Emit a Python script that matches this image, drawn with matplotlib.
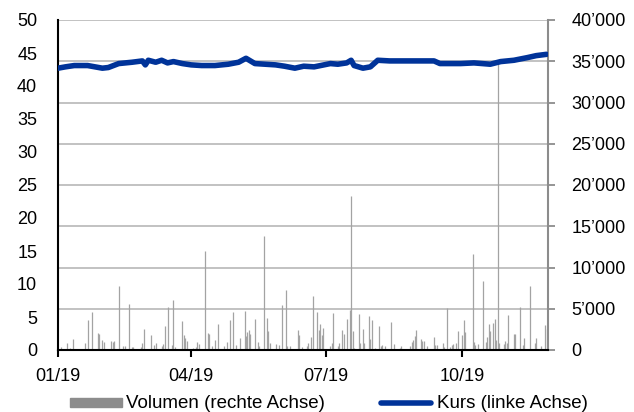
import numpy as np
import pandas as pd
import matplotlib
matplotlib.use("Agg")
import matplotlib.pyplot as plt
from matplotlib.lines import Line2D
from matplotlib.patches import Rectangle

# ---- data (days since 2019-01-01) ----
price_day = [0, 5, 11, 20, 30, 34, 41, 50, 57, 59, 61, 66, 70, 74, 78, 84, 90, 97,
             106, 115, 122, 127, 133, 140, 147, 153, 160, 166, 173, 184, 189, 195,
             198, 200, 206, 211, 216, 224, 238, 254, 258, 272, 281, 292, 299, 308,
             317, 323, 330]
price = [42.7, 42.9, 43.1, 43.1, 42.7, 42.8, 43.4, 43.6, 43.8, 43.2, 43.9, 43.6,
         43.9, 43.5, 43.7, 43.4, 43.2, 43.1, 43.1, 43.3, 43.6, 44.2, 43.4, 43.3,
         43.2, 43.0, 42.7, 43.0, 42.9, 43.4, 43.3, 43.5, 43.9, 43.1, 42.7, 42.9,
         43.9, 43.8, 43.8, 43.8, 43.4, 43.4, 43.5, 43.3, 43.7, 43.9, 44.3, 44.6, 44.8]

vol_day = [2, 6, 8, 10, 18, 20, 23, 27, 28, 30, 31, 36, 37, 38, 41, 44, 45, 48, 50,
           51, 56, 57, 58, 63, 65, 66, 70, 71, 72, 74, 77, 78, 79, 84, 85, 86, 87,
           91, 93, 94, 95, 99, 101, 102, 104, 106, 108, 112, 114, 116, 118, 120,
           123, 126, 127, 128, 129, 130, 133, 135, 136, 139, 141, 142, 143, 147,
           149, 151, 154, 155, 157, 162, 163, 165, 168, 169, 171, 172, 175, 176,
           177, 178, 179, 184, 185, 186, 189, 190, 192, 193, 195, 197, 198, 199,
           200, 203, 204, 206, 207, 210, 211, 212, 214, 217, 218, 219, 221, 225,
           227, 231, 232, 238, 239, 240, 241, 242, 245, 246, 247, 249, 254, 255,
           256, 260, 261, 263, 265, 266, 267, 269, 270, 273, 274, 275, 280, 281,
           282, 284, 287, 289, 290, 291, 292, 294, 295, 296, 297, 298, 301, 302,
           303, 304, 308, 309, 312, 314, 315, 319, 322, 323, 326, 329, 330]
volume = [400, 900, 200, 1300, 900, 3600, 4600, 2100, 1900, 1200, 1000, 1100, 1000,
          1100, 7800, 500, 500, 5600, 400, 400, 400, 900, 2600, 1800, 600, 800, 500,
          700, 2900, 5200, 600, 6100, 400, 3500, 1800, 1400, 1100, 300, 400, 1000,
          700, 12000, 2100, 1900, 500, 1200, 3100, 500, 1000, 3600, 4600, 600, 1400,
          4700, 1700, 2200, 2400, 1900, 3800, 1000, 500, 13800, 3900, 2300, 800,
          700, 600, 5500, 7300, 500, 500, 2400, 1800, 400, 500, 900, 1600, 6500,
          4600, 2400, 3100, 1800, 2700, 500, 900, 4500, 500, 900, 2400, 2000, 3800,
          4900, 18700, 2300, 300, 4400, 900, 2500, 900, 4100, 1300, 3600, 300,
          2900, 500, 600, 500, 3400, 700, 300, 500, 500, 1000, 1200, 1700, 2400,
          1300, 1100, 1100, 500, 1600, 600, 600, 900, 400, 5100, 400, 600, 700,
          800, 2300, 1800, 3600, 2200, 11600, 1000, 600, 700, 8400, 1000, 1600,
          3100, 2300, 3300, 3800, 1200, 35000, 900, 700, 1100, 900, 4200, 2000,
          1900, 5200, 600, 1400, 7700, 900, 1400, 500, 3000, 2600]

left_ticks = [0, 5, 10, 15, 20, 25, 30, 35, 40, 45, 50]
right_ticks = [0, 5000, 10000, 15000, 20000, 25000, 30000, 35000, 40000]
right_labels = ["0", "5\u2019000", "10\u2019000", "15\u2019000", "20\u2019000",
                "25\u2019000", "30\u2019000", "35\u2019000", "40\u2019000"]
x_tick_dates = ["2019-01-01", "2019-04-01", "2019-07-01", "2019-10-01"]
x_tick_labels = ["01/19", "04/19", "07/19", "10/19"]
legend_labels = ["Volumen (rechte Achse)", "Kurs (linke Achse)"]

start = pd.Timestamp("2019-01-01")
pdates = [start + pd.Timedelta(days=d) for d in price_day]
vdates = [start + pd.Timedelta(days=d) for d in vol_day]

plt.rcParams['font.family'] = ['Liberation Sans', 'DejaVu Sans']

fig = plt.figure(figsize=(6.34, 4.12), dpi=100)
ax2 = fig.add_axes([58/634, 1-350/412, (548-58)/634, 330/412])
ax = ax2.twinx()
ax2.yaxis.tick_right()
ax2.yaxis.set_label_position("right")
ax.yaxis.tick_left()
ax.yaxis.set_label_position("left")

ax.set_zorder(ax2.get_zorder() + 1)
ax.patch.set_visible(False)

# volume
ax2.vlines(vdates, 0, volume, color="#a3a3a3", lw=0.9, zorder=2)
ax2.set_ylim(0, 40000)
ax2.set_yticks(right_ticks)
ax2.set_yticklabels(right_labels)
ax2.grid(axis="y", color="#bdbdbd", lw=1.3, zorder=0)
ax2.set_axisbelow(True)

# price
ax.plot(pdates, price, color="#003399", lw=4, solid_capstyle="round",
        solid_joinstyle="round", zorder=3)
ax.set_ylim(0, 50)
ax.set_yticks(left_ticks)

xmin = start
xmax = start + pd.Timedelta(days=331)
ax.set_xlim(xmin, xmax)
ax2.set_xlim(xmin, xmax)
ax2.set_xticks([pd.Timestamp(d) for d in x_tick_dates])
ax2.set_xticklabels(x_tick_labels)

for a in (ax, ax2):
    a.spines["top"].set_visible(False)
ax2.spines["left"].set_visible(False)
ax.spines["right"].set_visible(False)
ax.spines["bottom"].set_visible(False)
ax.spines["left"].set_color("black")
ax.spines["left"].set_linewidth(1.5)
ax2.spines["bottom"].set_color("black")
ax2.spines["bottom"].set_linewidth(1.5)
ax2.spines["right"].set_color("#8c8c8c")
ax2.spines["right"].set_linewidth(1.5)

ax.tick_params(axis="y", length=0, pad=15, labelsize=13, labelcolor="black")
ax2.tick_params(axis="y", right=True, left=False, length=5, width=1.3,
                color="#8c8c8c", pad=12, labelsize=13, direction="out")
ax2.tick_params(axis="x", length=5, width=1.5, color="black", pad=8,
                labelsize=13, direction="out")
ax.tick_params(axis="x", bottom=False, labelbottom=False)

# legend (manual)
fig.patches.append(Rectangle((70/634, 1-407/412), 52/634, 9/412,
                             transform=fig.transFigure, color="#8c8c8c"))
fig.text(126/634, 1-403/412, legend_labels[0], fontsize=13.5,
         va="center", ha="left")
fig.lines.append(Line2D([381/634, 431/634], [1-403/412, 1-403/412],
                        transform=fig.transFigure, color="#003399", lw=4,
                        solid_capstyle="round"))
fig.text(437/634, 1-403/412, legend_labels[1], fontsize=13.5,
         va="center", ha="left")

fig.savefig("out.png", dpi=100)
